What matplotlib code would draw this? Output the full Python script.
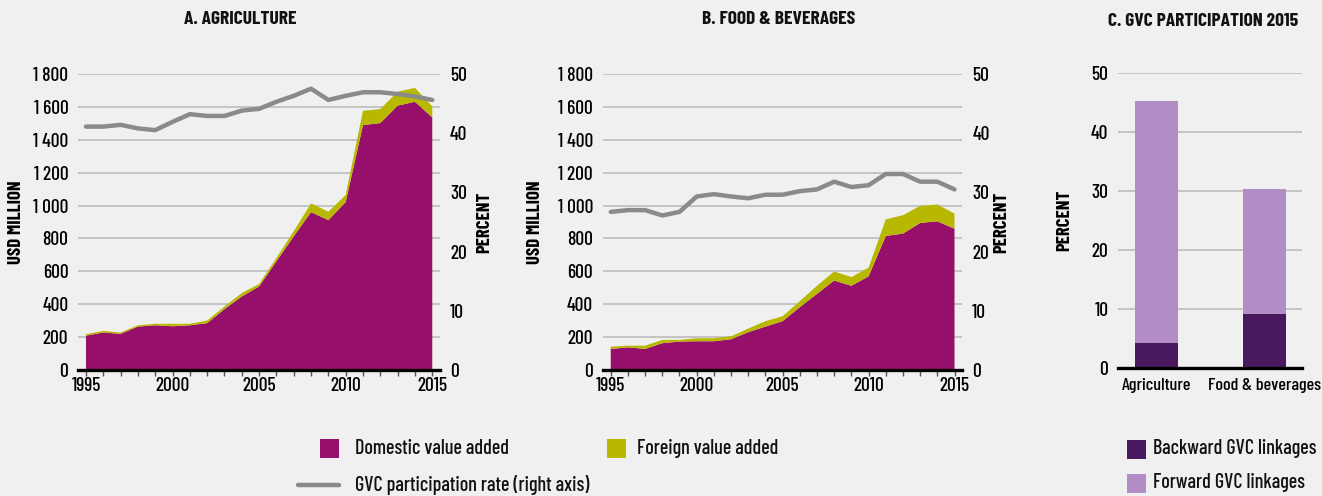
import matplotlib
matplotlib.use("Agg")
import matplotlib.pyplot as plt
from matplotlib.patches import Rectangle
from matplotlib.lines import Line2D

# ---- data ----
years = list(range(1995, 2016))

agri_domestic = [209, 228, 220, 264, 272, 266, 272, 285, 370, 447, 508,
                 661, 813, 960, 911, 1021, 1489, 1501, 1607, 1631, 1535]
agri_total = [218, 238, 228, 272, 281, 281, 281, 301, 386, 468, 523,
              681, 844, 1013, 962, 1064, 1576, 1586, 1692, 1715, 1603]
agri_gvc = [41.1, 41.1, 41.4, 40.8, 40.5, 41.9, 43.2, 42.9, 42.9, 43.8, 44.1,
            45.3, 46.3, 47.5, 45.6, 46.3, 46.9, 46.9, 46.6, 46.2, 45.6]

food_domestic = [128, 138, 128, 163, 173, 175, 175, 187, 230, 264, 297,
                 382, 463, 544, 512, 569, 815, 829, 894, 904, 859]
food_total = [142, 148, 148, 183, 183, 193, 193, 205, 252, 297, 327,
              419, 512, 599, 565, 622, 916, 941, 998, 1006, 951]
food_gvc = [26.7, 27.0, 27.0, 26.1, 26.7, 29.3, 29.7, 29.3, 29.0, 29.6, 29.6,
            30.2, 30.5, 31.8, 30.9, 31.2, 33.1, 33.1, 31.8, 31.8, 30.5]

agri_foreign = [t - d for t, d in zip(agri_total, agri_domestic)]
food_foreign = [t - d for t, d in zip(food_total, food_domestic)]

sectors = ["Agriculture", "Food & beverages"]
backward = [4.3, 9.1]
forward = [40.9, 21.3]

left_ticks = [0, 200, 400, 600, 800, 1000, 1200, 1400, 1600, 1800]
left_labels = ["0", "200", "400", "600", "800", "1 000", "1 200", "1 400", "1 600", "1 800"]

# ---- style ----
C_DOM = "#960f6a"
C_FOR = "#b9b800"
C_LINE = "#8a8a8a"
C_BACK = "#4a185f"
C_FWD = "#b28cc4"
BG = "#f0f0f0"
GRID = "#bdbdbd"

plt.rcParams["font.family"] = ["Barlow Condensed", "DejaVu Sans"]
plt.rcParams["font.weight"] = "medium"
plt.rcParams["text.color"] = "#111111"
TICK_FS = 14
LEG_FS = 14.5
LAB_FS = 13.5

fig = plt.figure(figsize=(13.22, 4.96), dpi=100, facecolor=BG)


def style_axis(ax):
    ax.set_facecolor(BG)
    for s in ("top", "left", "right"):
        ax.spines[s].set_visible(False)
    ax.spines["bottom"].set_linewidth(2.4)
    ax.spines["bottom"].set_color("#000000")
    ax.yaxis.grid(True, color=GRID, linewidth=1.2)
    ax.set_axisbelow(True)
    ax.tick_params(axis="y", length=0, labelsize=TICK_FS, pad=7)


def draw_area(rect, dom, forg, gvc, lab_left, lab_right):
    ax = fig.add_axes(rect)
    style_axis(ax)
    ax.stackplot(years, dom, forg, colors=[C_DOM, C_FOR], linewidth=0)
    ax.set_xlim(1994.54, 2015.46)
    ax.set_ylim(0, 1800)
    ax.set_yticks(left_ticks)
    ax.set_yticklabels(left_labels)
    ax.set_xticks(years, minor=True)
    ax.set_xticks([1995, 2000, 2005, 2010, 2015])
    ax.tick_params(axis="x", which="both", length=4, width=1, color="#555555",
                   labelsize=TICK_FS, pad=1)
    ax.set_ylabel("USD MILLION", fontsize=LAB_FS, fontweight="bold")
    ax.yaxis.set_label_coords(lab_left, 0.5)

    ax2 = ax.twinx()
    ax2.plot(years, gvc, color=C_LINE, linewidth=3.2, solid_capstyle="round")
    ax2.set_ylim(0, 50)
    ax2.set_yticks([0, 10, 20, 30, 40, 50])
    for s in ("top", "left", "right", "bottom"):
        ax2.spines[s].set_visible(False)
    ax2.tick_params(axis="y", length=0, labelsize=TICK_FS, pad=7)
    ax2.set_ylabel("PERCENT", fontsize=LAB_FS, fontweight="bold")
    ax2.yaxis.set_label_coords(lab_right, 0.5)
    return ax


draw_area([0.059, 0.254, 0.274, 0.597], agri_domestic, agri_foreign, agri_gvc,
          -0.146, 1.099)
draw_area([0.456, 0.254, 0.272, 0.597], food_domestic, food_foreign, food_gvc,
          -0.164, 1.086)

# ---- panel C ----
axc = fig.add_axes([0.8457, 0.258, 0.139, 0.595])
style_axis(axc)
xpos = list(range(len(sectors)))
axc.bar(xpos, backward, width=0.4, color=C_BACK)
axc.bar(xpos, forward, width=0.4, bottom=backward, color=C_FWD)
axc.set_xlim(-0.36, 1.35)
axc.set_ylim(0, 50)
axc.set_yticks([0, 10, 20, 30, 40, 50])
axc.set_xticks(xpos)
axc.set_xticklabels(sectors)
axc.tick_params(axis="x", length=0, labelsize=13, pad=7)
axc.set_ylabel("PERCENT", fontsize=LAB_FS, fontweight="bold")
axc.yaxis.set_label_coords(-0.245, 0.5)

# ---- panel titles ----
fig.text(240 / 1322, 1 - 19 / 496, "A. AGRICULTURE", fontsize=14,
         fontweight="bold", ha="center", va="center")
fig.text(779 / 1322, 1 - 19 / 496, "B. FOOD & BEVERAGES", fontsize=14,
         fontweight="bold", ha="center", va="center")
fig.text(1203 / 1322, 1 - 21 / 496, "C. GVC PARTICIPATION 2015", fontsize=14,
         fontweight="bold", ha="center", va="center")

# ---- legends (drawn in pixel space on an overlay) ----
lg = fig.add_axes([0, 0, 1, 1], facecolor="none")
lg.set_xlim(0, 1322)
lg.set_ylim(496, 0)
lg.axis("off")


def swatch(x, y, color, label, tx):
    lg.add_patch(Rectangle((x, y - 9.5), 19, 19, facecolor=color, edgecolor="none"))
    lg.text(tx, y, label, fontsize=LEG_FS, va="center", ha="left")


swatch(320, 448, C_DOM, "Domestic value added", 355)
swatch(607, 448, C_FOR, "Foreign value added", 637)
lg.add_line(Line2D([298, 339], [485, 485], color=C_LINE, linewidth=3.2,
                   solid_capstyle="round"))
lg.text(355, 485, "GVC participation rate (right axis)", fontsize=LEG_FS,
        va="center", ha="left")
swatch(1127, 449, C_BACK, "Backward GVC linkages", 1153)
swatch(1127, 483, C_FWD, "Forward GVC linkages", 1153)

fig.savefig("out.png", dpi=100, facecolor=BG)
